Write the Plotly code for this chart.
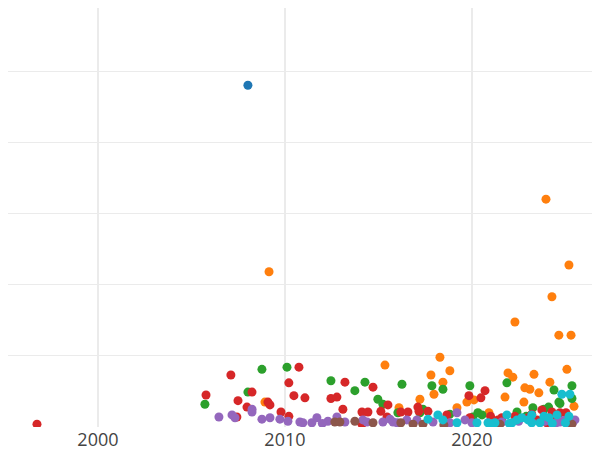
import plotly.graph_objects as go

# ---- data (year, value) per series ----
blue_x = [2008.02]
blue_y = [48.0]

orange_x = [2023.96, 2009.15, 2025.19, 2024.28, 2022.30, 2024.65, 2025.30, 2015.35, 2018.29, 2018.82,
            2017.81, 2018.45, 2017.97, 2017.22, 2019.73, 2019.20, 2016.10, 2008.93, 2021.93, 2022.19,
            2021.77, 2022.83, 2023.10, 2023.32, 2022.78, 2020.91, 2025.08, 2024.17, 2025.46, 2023.58,
            2020.11]
orange_y = [32.0, 21.8, 22.75, 18.3, 14.75, 12.9, 12.9, 8.7, 9.8, 7.9,
            7.3, 6.3, 4.6, 3.9, 3.5, 2.7, 2.7, 3.5, 7.6, 7.0,
            4.2, 5.5, 5.3, 7.4, 3.5, 2.0, 8.1, 6.3, 2.9, 4.8,
            3.8]

green_x = [2005.72, 2008.77, 2010.11, 2008.02, 2012.46, 2013.74, 2014.28, 2014.97, 2015.24, 2016.26,
           2016.04, 2017.86, 2018.45, 2019.89, 2021.87, 2024.39, 2025.35, 2025.35, 2024.65, 2024.71,
           2023.85, 2023.26, 2022.41, 2020.32, 2020.54, 2017.38, 2017.22, 2018.82, 2020.05, 2022.90,
           2024.10]
green_y = [3.2, 8.1, 8.4, 4.9, 6.5, 5.1, 6.3, 3.9, 3.2, 6.0,
           2.0, 5.8, 5.3, 5.8, 6.2, 5.2, 5.8, 4.0, 3.5, 3.3,
           2.5, 2.7, 2.1, 2.0, 1.7, 2.5, 2.0, 1.8, 1.4, 1.5,
           2.8]

red_x = [1996.74, 2005.78, 2007.11, 2007.49, 2008.24, 2007.97, 2007.43, 2009.09, 2009.20, 2009.79,
         2010.21, 2010.21, 2010.48, 2010.75, 2011.07, 2012.46, 2012.78, 2013.21, 2013.10, 2014.71,
         2015.13, 2015.51, 2014.12, 2014.44, 2016.20, 2015.46, 2014.12, 2017.11, 2017.65, 2017.17,
         2018.66, 2019.89, 2019.84, 2020.48, 2020.70, 2021.39, 2021.60, 2022.99, 2023.48, 2023.74,
         2024.28, 2024.71, 2025.03, 2024.01, 2016.58, 2022.30, 2023.20, 2024.50, 2021.00]
red_y = [0.4, 4.5, 7.3, 3.7, 4.9, 2.8, 1.4, 3.5, 3.1, 2.1,
         1.5, 6.2, 4.4, 8.4, 4.1, 4.0, 4.2, 6.3, 2.5, 5.6,
         2.2, 3.1, 2.1, 2.1, 2.1, 1.4, 0.4, 2.8, 2.2, 2.2,
         1.7, 1.3, 4.4, 4.1, 5.1, 1.0, 1.3, 1.3, 1.0, 2.4,
         2.1, 2.0, 2.0, 0.6, 2.1, 1.5, 1.8, 1.6, 1.5]

purple_x = [2006.47, 2007.17, 2007.33, 2008.24, 2008.24, 2008.77, 2009.20, 2009.73, 2010.16, 2010.80,
            2010.96, 2011.44, 2011.71, 2012.30, 2012.78, 2013.21, 2014.17, 2014.39, 2015.24, 2015.62,
            2015.78, 2016.52, 2017.06, 2017.92, 2018.82, 2019.20, 2019.63, 2021.60, 2022.50, 2023.20,
            2024.71, 2025.51, 2020.00, 2021.00, 2023.90, 2025.20, 2012.00, 2016.00, 2024.50, 2024.90,
            2025.40]
purple_y = [1.4, 1.7, 1.3, 2.5, 2.1, 1.1, 1.3, 1.1, 0.8, 0.7,
            0.6, 0.6, 1.3, 0.8, 1.4, 0.7, 1.0, 0.7, 0.7, 1.1,
            0.7, 1.0, 1.0, 0.7, 0.6, 2.0, 1.0, 0.7, 0.8, 0.7,
            0.7, 1.0, 0.6, 0.5, 0.8, 0.5, 0.5, 0.6, 0.6, 0.9,
            0.7]

brown_x = [2012.67, 2012.94, 2013.74, 2014.71, 2016.20, 2016.85, 2017.38, 2025.35, 2018.50, 2021.50]
brown_y = [0.7, 0.7, 0.8, 0.6, 0.6, 0.4, 0.4, 0.4, 0.3, 0.4]

cyan_x = [2017.65, 2018.18, 2018.45, 2019.20, 2020.27, 2021.87, 2022.41, 2022.67, 2020.86, 2021.23,
          2022.14, 2024.81, 2025.24, 2023.85, 2024.12, 2024.55, 2025.19, 2023.64, 2023.20, 2023.20,
          2021.00, 2022.00, 2023.00, 2024.30, 2025.00]
cyan_y = [1.1, 1.7, 1.0, 0.6, 0.6, 1.7, 1.0, 1.3, 0.6, 0.6,
          0.6, 4.6, 4.6, 1.5, 1.3, 1.7, 1.5, 0.6, 1.7, 0.6,
          0.4, 0.5, 1.0, 0.5, 0.6]

series = [
    ("A", blue_x, blue_y, "#1f77b4"),
    ("B", orange_x, orange_y, "#ff7f0e"),
    ("C", green_x, green_y, "#2ca02c"),
    ("D", red_x, red_y, "#d62728"),
    ("E", purple_x, purple_y, "#9467bd"),
    ("F", brown_x, brown_y, "#8c564b"),
    ("G", cyan_x, cyan_y, "#17becf"),
]

year_ticks = [2000, 2010, 2020]
year_labels = ["2000", "2010", "2020"]

fig = go.Figure()
for name, xs, ys, col in series:
    fig.add_trace(go.Scatter(x=xs, y=ys, mode="markers", name=name,
                             marker=dict(color=col, size=9, line=dict(width=0))))

fig.update_layout(
    width=600, height=450,
    margin=dict(l=0, r=8, t=0, b=31),
    paper_bgcolor="white", plot_bgcolor="white",
    showlegend=False,
    font=dict(color="#444"),
    xaxis=dict(range=[1995.19, 2026.85], tickvals=year_ticks, ticktext=year_labels,
               showgrid=True, gridcolor="#ebebeb", gridwidth=2, zeroline=False,
               showline=False, ticks="", tickfont=dict(size=18, color="#444")),
    yaxis=dict(range=[0, 58.85], dtick=10, showticklabels=False, showgrid=True,
               gridcolor="#ebebeb", gridwidth=1, zeroline=False, showline=False, ticks=""),
)

fig.write_html("out.html")
